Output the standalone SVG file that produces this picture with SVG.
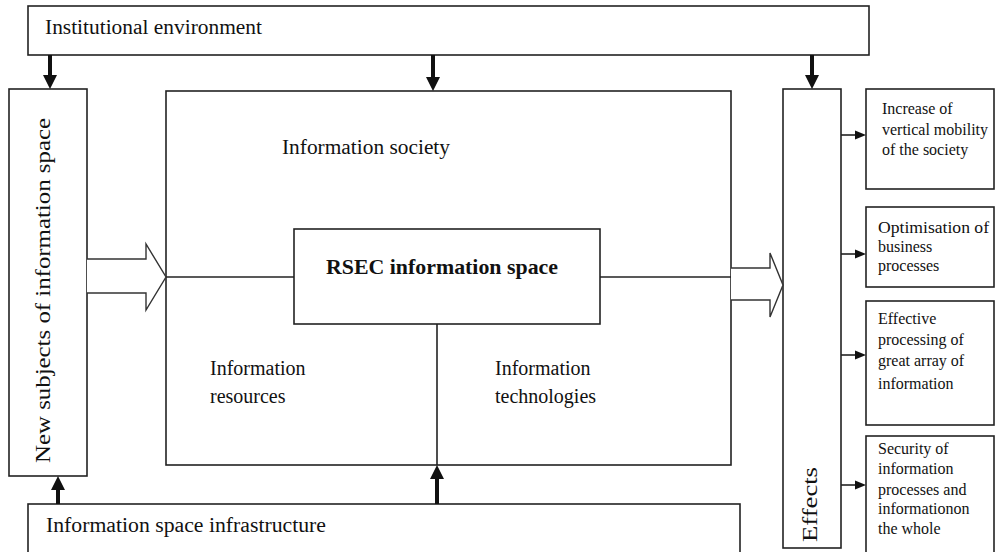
<svg xmlns="http://www.w3.org/2000/svg" width="996" height="552" viewBox="0 0 996 552">
  <style>
    .box { fill: #fff; stroke: #222; stroke-width: 1.6; }
    .line { fill: none; stroke: #222; stroke-width: 1.6; }
    .hollow { fill: #fff; stroke: #333; stroke-width: 1.4; stroke-linejoin: miter; }
    .solid { fill: #111; stroke: none; }
    text { font-family: "Liberation Serif", "Times New Roman", serif; fill: #111; }
    .lbl { font-size: 20px; }
    .small { font-size: 16px; }
    .bold { font-size: 21px; font-weight: bold; }
    .vert { font-size: 21px; }
  </style>

  <rect width="996" height="552" fill="#fff"/>

  <!-- Top frame -->
  <g id="institutional-environment">
    <rect class="box" x="28" y="6" width="841" height="49"/>
    <text class="lbl" x="45" y="34" textLength="217" lengthAdjust="spacingAndGlyphs">Institutional  environment</text>
  </g>

  <!-- Left column -->
  <g id="new-subjects">
    <rect class="box" x="9" y="89" width="78" height="387"/>
    <text class="vert" transform="translate(50,463) rotate(-90)" textLength="345" lengthAdjust="spacingAndGlyphs">New subjects of information space</text>
  </g>

  <!-- Central frame -->
  <g id="information-society">
    <rect class="box" x="166" y="91" width="565" height="374"/>
    <text class="lbl" x="282" y="154" textLength="168" lengthAdjust="spacingAndGlyphs">Information  society</text>
  </g>

  <g id="information-resources">
    <text class="lbl" x="210" y="375">Information</text>
    <text class="lbl" x="210" y="403">resources</text>
  </g>

  <g id="information-technologies">
    <text class="lbl" x="495" y="375">Information</text>
    <text class="lbl" x="495" y="403">technologies</text>
  </g>

  <!-- Bottom frame -->
  <g id="infrastructure">
    <rect class="box" x="28" y="504" width="712" height="60"/>
    <text class="lbl" x="46" y="532" textLength="280" lengthAdjust="spacingAndGlyphs">Information  space infrastructure</text>
  </g>

  <!-- Effects column -->
  <g id="effects">
    <rect class="box" x="783" y="89" width="58" height="459"/>
    <text class="vert" transform="translate(817,542) rotate(-90)" textLength="75" lengthAdjust="spacingAndGlyphs">Effects</text>
  </g>

  <!-- Effect boxes -->
  <g id="effect-mobility">
    <rect class="box" x="866" y="89" width="128" height="100"/>
    <text class="small" x="882" y="114">Increase of</text>
    <text class="small" x="882" y="135" textLength="106" lengthAdjust="spacingAndGlyphs">vertical mobility</text>
    <text class="small" x="882" y="155">of the society</text>
  </g>

  <g id="effect-business">
    <rect class="box" x="866" y="207" width="128" height="80"/>
    <text class="small" x="878" y="233" textLength="111" lengthAdjust="spacingAndGlyphs">Optimisation of</text>
    <text class="small" x="878" y="252">business</text>
    <text class="small" x="878" y="271">processes</text>
  </g>

  <g id="effect-processing">
    <rect class="box" x="866" y="301" width="128" height="124"/>
    <text class="small" x="878" y="324">Effective</text>
    <text class="small" x="878" y="345">processing of</text>
    <text class="small" x="878" y="366">great array of</text>
    <text class="small" x="878" y="389">information</text>
  </g>

  <g id="effect-security">
    <rect class="box" x="866" y="436" width="128" height="130"/>
    <text class="small" x="878" y="454">Security of</text>
    <text class="small" x="878" y="474">information</text>
    <text class="small" x="878" y="495">processes and</text>
    <text class="small" x="878" y="514">informationon</text>
    <text class="small" x="878" y="534">the whole</text>
  </g>

  <!-- Core node -->
  <g id="rsec-information-space">
    <rect class="box" x="294" y="229" width="306" height="95"/>
    <text class="bold" x="326" y="274" textLength="232" lengthAdjust="spacingAndGlyphs">RSEC information space</text>
  </g>

  <!-- Connectors -->
  <g id="connectors">
    <!-- internal links of the core node -->
    <line class="line" x1="166" y1="277" x2="294" y2="277"/>
    <line class="line" x1="600" y1="277" x2="731" y2="277"/>
    <line class="line" x1="437" y1="324" x2="437" y2="465"/>

    <!-- hollow block arrows -->
    <polyline class="hollow" points="87,259 146,259 146,244 166,277 146,310 146,293 87,293"/>
    <polyline class="hollow" points="731,268 770,268 770,253 783,285 770,317 770,300 731,300"/>

    <!-- thick arrows from the top frame -->
    <polygon class="solid" points="48,55 52,55 52,75 57,75 50,89 43,75 48,75"/>
    <polygon class="solid" points="431,55 435,55 435,77 440,77 433,91 426,77 431,77"/>
    <polygon class="solid" points="810,55 814,55 814,75 819,75 812,89 805,75 810,75"/>

    <!-- thick arrows from the bottom frame -->
    <polygon class="solid" points="56,504 60,504 60,490 65,490 58,476 51,490 56,490"/>
    <polygon class="solid" points="435,504 439,504 439,479 444,479 437,465 430,479 435,479"/>

    <!-- arrows to effect boxes -->
    <line class="line" x1="841" y1="135" x2="857" y2="135"/>
    <polygon class="solid" points="855,130.5 866,135 855,139.5"/>
    <line class="line" x1="841" y1="254" x2="857" y2="254"/>
    <polygon class="solid" points="855,249.5 866,254 855,258.5"/>
    <line class="line" x1="841" y1="355" x2="857" y2="355"/>
    <polygon class="solid" points="855,350.5 866,355 855,359.5"/>
    <line class="line" x1="841" y1="485" x2="857" y2="485"/>
    <polygon class="solid" points="855,480.5 866,485 855,489.5"/>
  </g>
</svg>
